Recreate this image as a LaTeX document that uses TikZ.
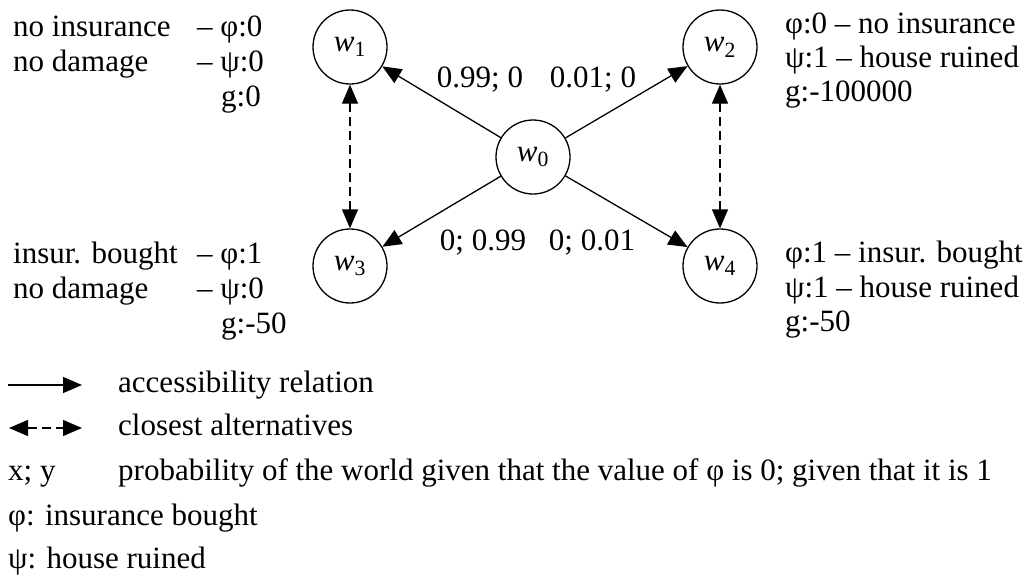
\documentclass[tikz,border=0pt]{standalone}
\usepackage{fontspec}
\setmainfont{Liberation Serif}
\usetikzlibrary{arrows.meta}
\tikzset{
  world/.style={circle, draw, line width=1.3pt, minimum size=74pt, inner sep=0pt},
  tip/.tip={Triangle[length=19pt,width=16pt]},
  acc/.style={line width=1.3pt, -tip},
  alt/.style={line width=1.3pt, dash pattern=on 9pt off 5pt, tip-tip},
  txt/.style={anchor=base west, inner sep=0pt, font=\fontsize{31}{36}\selectfont},
  lbl/.style={inner sep=0pt, font=\fontsize{31}{36}\selectfont},
  leg/.style={anchor=base west, inner sep=0pt, font=\fontsize{31}{36}\selectfont},
}
\begin{document}
\begin{tikzpicture}[x=1pt,y=-1pt]
\useasboundingbox (0,0) rectangle (1029,581);
\node[world, lbl] (w0) at (533,157) {\textit{w}\textsubscript{0}};
\node[world, lbl] (w1) at (350,47) {\textit{w}\textsubscript{1}};
\node[world, lbl] (w2) at (720,47) {\textit{w}\textsubscript{2}};
\node[world, lbl] (w3) at (350,266) {\textit{w}\textsubscript{3}};
\node[world, lbl] (w4) at (720,266) {\textit{w}\textsubscript{4}};
\draw[acc] (w0) -- (w1);
\draw[acc] (w0) -- (w2);
\draw[acc] (w0) -- (w3);
\draw[acc] (w0) -- (w4);
\draw[alt] (w1) -- (w3);
\draw[alt] (w2) -- (w4);
\node[lbl, anchor=base] (p1) at (480,87) {0.99; 0};
\node[lbl, anchor=base] (p2) at (593,87) {0.01; 0};
\node[lbl, anchor=base] (p3) at (483,250) {0; 0.99};
\node[lbl, anchor=base] (p4) at (592,250) {0; 0.01};
% left top
\node[txt] (a1) at (13,36) {no insurance};
\node[txt] (a2) at (197,36) {– φ:0};
\node[txt] (a3) at (13,71) {no damage};
\node[txt] (a4) at (197,71) {– ψ:0};
\node[txt] (a5) at (221,106) {g:0};
% left bottom
\node[txt] (b1) at (13,263) {insur. bought};
\node[txt] (b2) at (197,263) {– φ:1};
\node[txt] (b3) at (13,298) {no damage};
\node[txt] (b4) at (197,298) {– ψ:0};
\node[txt] (b5) at (221,333) {g:-50};
% right top
\node[txt] (c1) at (785,33) {φ:0 – no insurance};
\node[txt] (c2) at (785,67) {ψ:1 – house ruined};
\node[txt] (c3) at (785,101) {g:-100000};
% right bottom
\node[txt] (d1) at (785,262) {φ:1 – insur. bought};
\node[txt] (d2) at (785,297) {ψ:1 – house ruined};
\node[txt] (d3) at (785,331) {g:-50};
% legend
\coordinate (l1a) at (8,385);
\coordinate (l1b) at (82,385);
\draw[acc] (l1a) -- (l1b);
\node[leg] (t1) at (118,392) {accessibility relation};
\coordinate (l2a) at (9,428);
\coordinate (l2b) at (82,428);
\draw[alt] (l2a) -- (l2b);
\node[leg] (t2) at (118,435) {closest alternatives};
\node[leg] (t3a) at (8,480) {x; y};
\node[leg] (t3) at (118,480) {probability of the world given that the value of φ is 0; given that it is 1};
\node[leg] (t4) at (8,525) {φ: insurance bought};
\node[leg] (t5) at (8,568) {ψ: house ruined};
\end{tikzpicture}
\end{document}
